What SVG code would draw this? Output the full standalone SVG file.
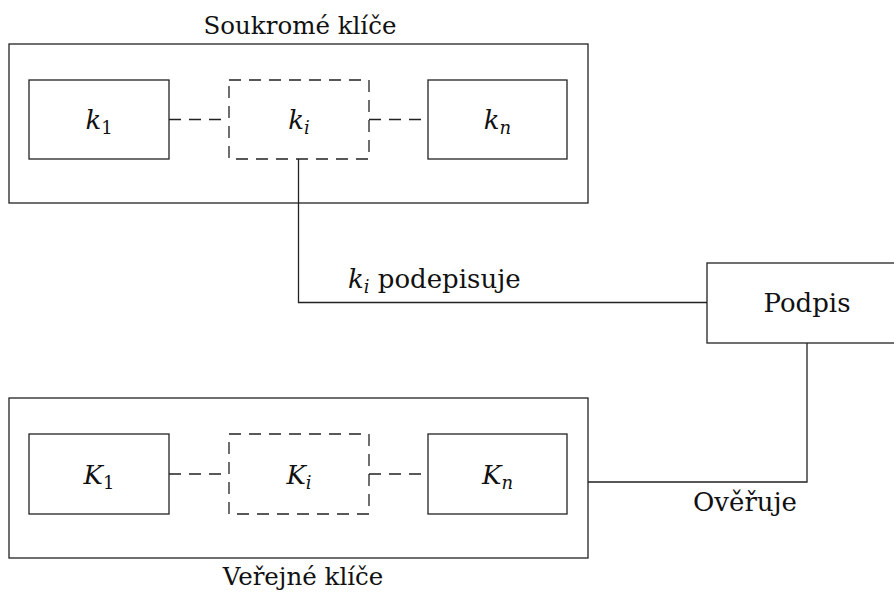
<svg xmlns="http://www.w3.org/2000/svg" width="894" height="592" viewBox="0 0 894 592">
  <style>
    .box { fill: none; stroke: #222; stroke-width: 1.3; }
    .dash { fill: none; stroke: #222; stroke-width: 1.3; stroke-dasharray: 12 8; }
    .wire { fill: none; stroke: #222; stroke-width: 1.3; }
    text { font-family: "DejaVu Serif", "Liberation Serif", serif; font-size: 26px; fill: #111; }
    .title { font-size: 24.5px; }
    .m { font-style: italic; }
    .sub { font-size: 18px; }
    .c { text-anchor: middle; }
  </style>
  <rect width="894" height="592" fill="#fff"/>

  <!-- private keys container -->
  <g id="private-keys">
    <rect class="box" x="9" y="44" width="579" height="159"/>
    <text class="c title" x="300" y="34">Soukromé klíče</text>
  </g>
  <g id="k1">
    <rect class="box" x="29" y="80" width="140" height="79"/>
    <text class="c" x="99" y="129"><tspan class="m">k</tspan><tspan class="sub" dy="5">1</tspan></text>
  </g>
  <g id="ki">
    <rect class="dash" x="229" y="80" width="140" height="79"/>
    <text class="c" x="299" y="129"><tspan class="m">k</tspan><tspan class="m sub" dy="5">i</tspan></text>
  </g>
  <g id="kn">
    <rect class="box" x="428" y="80" width="139" height="79"/>
    <text class="c" x="497.5" y="129"><tspan class="m">k</tspan><tspan class="m sub" dy="5">n</tspan></text>
  </g>

  <!-- public keys container -->
  <g id="public-keys">
    <rect class="box" x="9" y="398" width="579" height="160"/>
    <text class="c title" x="303" y="585">Veřejné klíče</text>
  </g>
  <g id="K1">
    <rect class="box" x="29" y="434" width="140" height="80"/>
    <text class="c" x="99" y="484"><tspan class="m">K</tspan><tspan class="sub" dy="5">1</tspan></text>
  </g>
  <g id="Ki">
    <rect class="dash" x="229" y="434" width="140" height="80"/>
    <text class="c" x="299" y="484"><tspan class="m">K</tspan><tspan class="m sub" dy="5">i</tspan></text>
  </g>
  <g id="Kn">
    <rect class="box" x="428" y="434" width="139" height="80"/>
    <text class="c" x="497.5" y="484"><tspan class="m">K</tspan><tspan class="m sub" dy="5">n</tspan></text>
  </g>

  <!-- signature node (runs off the right edge) -->
  <g id="podpis">
    <rect class="box" x="707" y="263" width="200" height="80"/>
    <text class="c" x="807" y="312">Podpis</text>
  </g>

  <!-- connectors -->
  <g id="connectors">
    <line class="dash" x1="169" y1="119.5" x2="229" y2="119.5"/>
    <line class="dash" x1="369" y1="119.5" x2="428" y2="119.5"/>
    <line class="dash" x1="169" y1="474" x2="229" y2="474"/>
    <line class="dash" x1="369" y1="474" x2="428" y2="474"/>
    <polyline class="wire" points="298.5,159 298.5,302.5 707,302.5"/>
    <polyline class="wire" points="807,343 807,482 588,482"/>
    <text x="348" y="288"><tspan class="m">k</tspan><tspan class="m sub" dy="5">i</tspan><tspan dy="-5"> podepisuje</tspan></text>
    <text class="c" x="745" y="511">Ověřuje</text>
  </g>
</svg>
